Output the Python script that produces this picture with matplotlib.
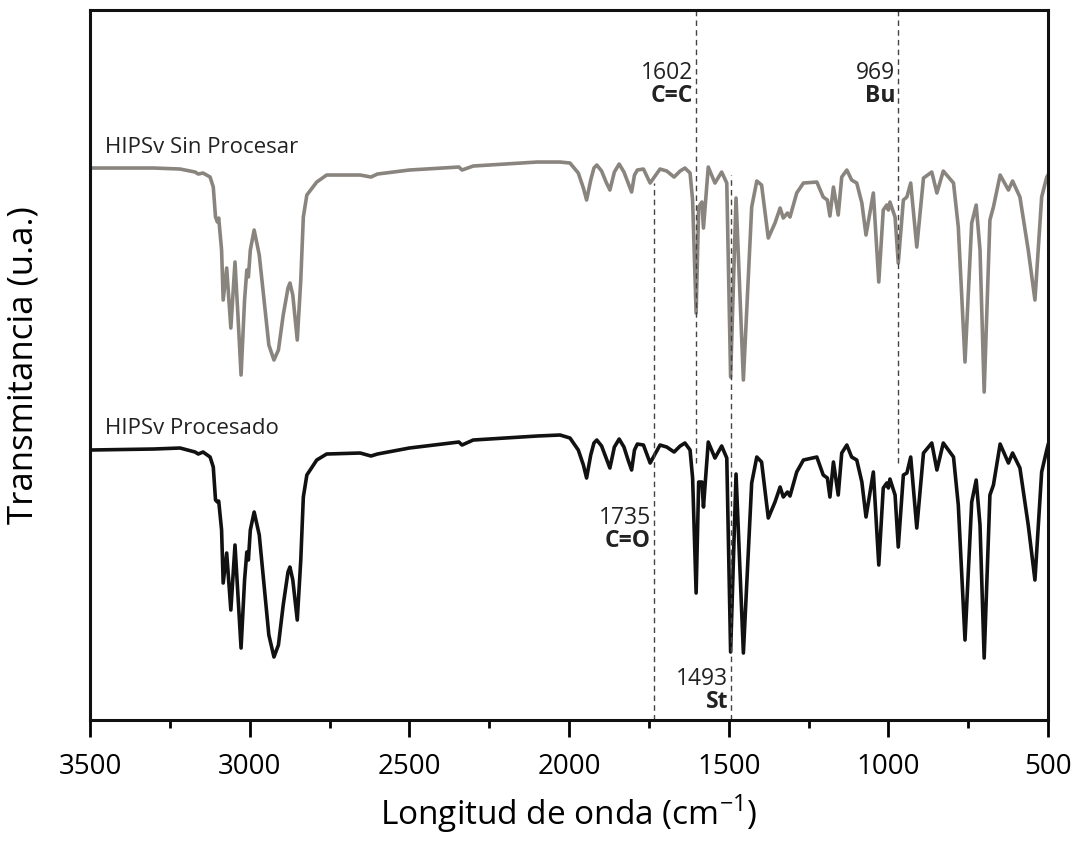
import numpy as np
import matplotlib.pyplot as plt

plt.rcParams['font.family'] = ['Open Sans', 'DejaVu Sans']
plt.rcParams['mathtext.fontset'] = 'custom'
plt.rcParams['mathtext.rm'] = 'Open Sans'

# numero de onda (cm-1) y transmitancia (u.a.)
wn = [3500, 3300, 3218, 3171, 3161, 3146, 3124, 3114, 3107, 3101, 3097, 3088, 3083, 3072,
      3059, 3046, 3036, 3027, 3016, 3009, 3004, 2998, 2986, 2970, 2955, 2940, 2924, 2910,
      2895, 2880, 2874, 2865, 2851, 2840, 2832, 2821, 2790, 2759, 2654, 2620, 2600, 2500,
      2345, 2335, 2300, 2200, 2100, 2028, 1997, 1971, 1955, 1945, 1932, 1922, 1913, 1898,
      1884, 1872, 1858, 1843, 1828, 1815, 1804, 1795,
      1786, 1767, 1746, 1715, 1694, 1671, 1652, 1637, 1621, 1613, 1602, 1594, 1584, 1579,
      1564, 1543, 1522, 1506, 1494, 1477, 1454, 1428, 1412, 1397, 1376, 1355, 1339, 1329,
      1316, 1308, 1287, 1266, 1224, 1204, 1191, 1183, 1172, 1157, 1146, 1130, 1115, 1099,
      1083, 1070, 1047, 1030, 1016, 1005, 1000, 995, 979, 969, 953, 942, 930, 911, 890,
      864, 848, 828, 796, 781, 760, 739, 725, 713, 700, 682, 671, 650, 624, 611, 588, 562,
      541, 520, 504, 500]

t_sin = [552, 552, 551, 548, 546, 547, 543, 533, 503, 498, 502, 470, 420, 452,
         392, 458, 400, 345, 420, 450, 443, 470, 490, 465, 420, 375, 360, 370,
         405, 432, 437, 425, 380, 440, 503, 525, 538, 545, 545, 543, 546, 550,
         553, 550, 554, 556, 558, 558, 557, 547, 532, 520, 540, 552, 555, 549,
         538, 530, 548, 556, 548, 537, 528, 545,
         550, 551, 537, 551, 549, 543, 549, 552, 547, 520, 407, 513, 518, 492,
         553, 537, 548, 537, 343, 522, 340, 513, 539, 535, 482, 497, 512, 502,
         507, 503, 527, 537, 538, 523, 520, 504, 533, 505, 543, 550, 540, 537,
         517, 485, 527, 438, 510, 515, 510, 518, 503, 457, 520, 523, 537, 473, 542,
         548, 527, 549, 537, 493, 358, 497, 515, 470, 328, 500, 513, 545, 530, 539, 523, 470,
         420, 523, 543, 545]

t_proc = [270, 271, 272, 268, 266, 268, 263, 253, 220, 218, 219, 190, 137, 167,
          110, 175, 120, 72, 140, 168, 160, 190, 208, 185, 135, 85, 63, 75,
          115, 148, 153, 140, 100, 160, 223, 245, 260, 266, 267, 264, 266, 272,
          278, 275, 280, 282, 284, 285, 282, 270, 255, 242, 265, 277, 280, 274,
          262, 252, 273, 281, 273, 260, 250, 270,
          276, 275, 257, 275, 273, 268, 274, 277, 270, 242, 127, 238, 238, 213,
          278, 262, 274, 262, 68, 246, 67, 237, 263, 258, 202, 218, 233, 223,
          228, 224, 248, 260, 263, 245, 242, 223, 258, 225, 267, 275, 263, 260,
          238, 203, 248, 155, 232, 237, 232, 241, 225, 173, 245, 247, 263, 192, 267,
          277, 250, 277, 263, 215, 80, 218, 240, 195, 62, 225, 235, 276, 257, 267, 252, 195,
          140, 248, 270, 275]

# bandas marcadas: posicion, numero, grupo, tramo vertical de la linea y altura del texto
bandas = [1602, 969, 1735, 1493]
bandas_txt = ["1602", "969", "1735", "1493"]
bandas_grp = ["C=C", "Bu", "C=O", "St"]
linea_ini = [257, 257, 0, 0]
linea_fin = [710, 710, 537, 545]
texto_y = [647, 647, 202, 41]

fig = plt.figure(figsize=(10.78, 8.43), dpi=100)
ax = fig.add_axes([0.0835, 0.1459, 0.8887, 0.8422])

ax.plot(wn, t_sin, color="#8a847e", lw=2.6, solid_joinstyle="round")
ax.plot(wn, t_proc, color="#111111", lw=2.6, solid_joinstyle="round")

for b, txt, grp, y0, y1, ty in zip(bandas, bandas_txt, bandas_grp, linea_ini, linea_fin, texto_y):
    ax.plot([b, b], [y0, y1], color="#444444", lw=1.0, ls=(0, (4, 3)))
    ax.text(b + 9, ty, txt, ha="right", va="center", fontsize=16.5, color="#222222")
    ax.text(b + 9, ty - 23, grp, ha="right", va="center", fontsize=16.5,
            fontweight="bold", color="#222222")

ax.text(3453, 573, "HIPSv Sin Procesar", fontsize=16, color="#222222", va="center")
ax.text(3453, 292, "HIPSv Procesado", fontsize=16, color="#222222", va="center")

ax.set_xlim(3500, 500)
ax.set_ylim(0, 710)
ax.set_xticks(np.arange(3500, 499, -500))
ax.set_xticks(np.arange(3250, 500, -500), minor=True)
ax.set_yticks([])
ax.tick_params(axis="x", which="major", direction="out", length=12, width=2, labelsize=20, pad=12)
ax.tick_params(axis="x", which="minor", direction="out", length=6, width=2)
for s in ax.spines.values():
    s.set_linewidth(2.2)
    s.set_color("#111111")

ax.set_xlabel("Longitud de onda (cm$^{-1}$)", fontsize=24, labelpad=8)
ax.set_ylabel("Transmitancia (u.a.)", fontsize=25, labelpad=36)

fig.savefig("out.png", dpi=100)
